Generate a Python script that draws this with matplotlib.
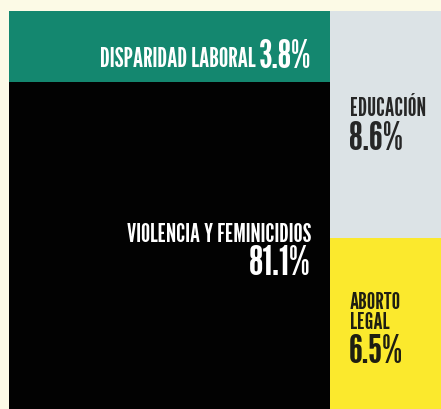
import matplotlib.pyplot as plt
from matplotlib.patches import Rectangle

categories = ['DISPARIDAD LABORAL', 'VIOLENCIA Y FEMINICIDIOS', 'EDUCACIÓN', 'ABORTO\nLEGAL']
values = [3.8, 81.1, 8.6, 6.5]
colors = ['#14876f', '#020202', '#dce3e6', '#fbe92d']
text_colors = ['white', 'white', '#262626', '#1e1e12']

W, H = 441, 409
fig = plt.figure(figsize=(W / 100, H / 100), dpi=100)
fig.patch.set_facecolor('#fcfae6')
ax = fig.add_axes([0, 0, 1, 1])
ax.set_xlim(0, W)
ax.set_ylim(H, 0)
ax.axis('off')

plt.rcParams['font.family'] = ['League Gothic', 'DejaVu Sans']

# layout of the block (pixels)
x0, y0 = 9, 11
split_x = 330
bottom = 420
teal_h = 71

# left column: teal band on top, black below
ax.add_patch(Rectangle((x0, y0), split_x - x0, teal_h, color=colors[0], lw=0))
ax.add_patch(Rectangle((x0, y0 + teal_h), split_x - x0, bottom - y0 - teal_h, color=colors[1], lw=0))

# right column split by value
right_total = values[2] + values[3]
col_h = 398
gray_h = col_h * values[2] / right_total
ax.add_patch(Rectangle((split_x, y0), W - split_x + 10, gray_h, color=colors[2], lw=0))
ax.add_patch(Rectangle((split_x, y0 + gray_h), W - split_x + 10, bottom - y0 - gray_h, color=colors[3], lw=0))

# disparidad: label and number on one line, right aligned
ax.text(311, 68, '%.1f%%' % values[0], color=text_colors[0], fontsize=28,
        ha='right', va='baseline')
ax.text(256, 67, categories[0], color=text_colors[0], fontsize=19,
        ha='right', va='baseline')

# violencia
ax.text(311, 242, categories[1], color=text_colors[1], fontsize=18.5,
        ha='right', va='baseline')
ax.text(311, 275, '%.1f%%' % values[1], color=text_colors[1], fontsize=30,
        ha='right', va='baseline')

# educacion
ax.text(350, 116, categories[2], color=text_colors[2], fontsize=17.5,
        ha='left', va='baseline')
ax.text(349, 150, '%.1f%%' % values[2], color=text_colors[2], fontsize=29,
        ha='left', va='baseline')

# aborto legal
ax.text(350, 329, categories[3], color=text_colors[3], fontsize=17,
        ha='left', va='baseline', linespacing=0.95)
ax.text(349, 363, '%.1f%%' % values[3], color=text_colors[3], fontsize=29,
        ha='left', va='baseline')

fig.savefig('out.png', dpi=100, facecolor=fig.get_facecolor())
